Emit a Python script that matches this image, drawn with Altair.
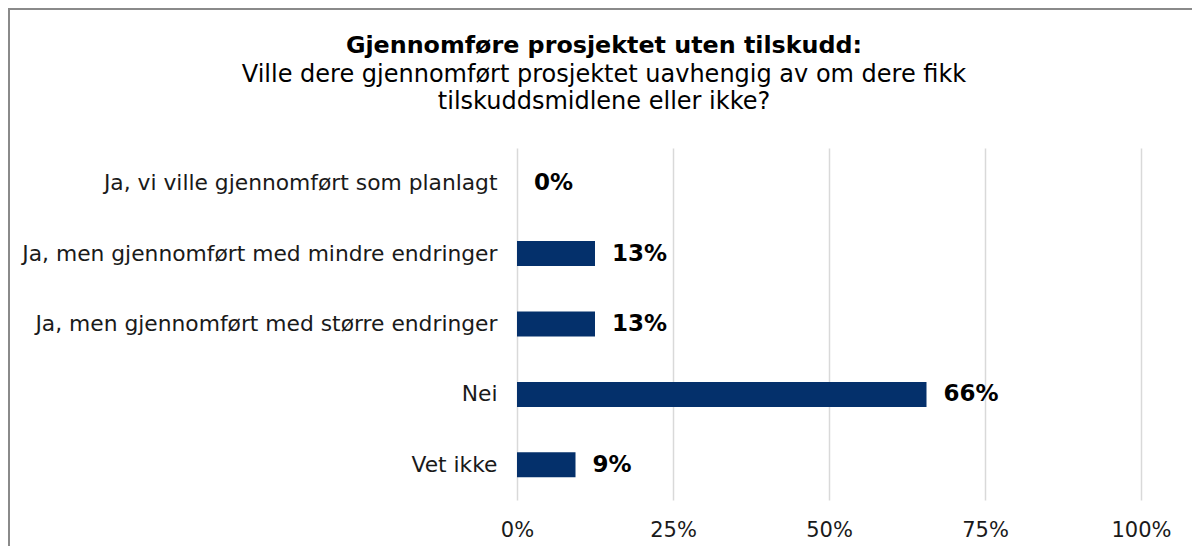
import altair as alt
import pandas as pd

categories = [
    "Ja, vi ville gjennomført som planlagt",
    "Ja, men gjennomført med mindre endringer",
    "Ja, men gjennomført med større endringer",
    "Nei",
    "Vet ikke",
]
shares = [0.0, 0.125, 0.125, 0.65625, 0.09375]
value_labels = ["0%", "13%", "13%", "66%", "9%"]

df = pd.DataFrame({"cat": categories, "share": shares, "label": value_labels})

FONT = "DejaVu Sans"
W, H = 624, 352
PAD_L, PAD_T, PAD_R, PAD_B = 509, 140, 51, 46

y_enc = alt.Y("cat:N", sort=categories, title=None,
              scale=alt.Scale(paddingInner=0.0, paddingOuter=0.0),
              axis=alt.Axis(labelFontSize=21.8, labelFont=FONT, labelColor="#1a1a1a",
                            labelPadding=20, ticks=False, domain=False, grid=False,
                            labelLimit=600))
x_enc = alt.X("share:Q", title=None,
              scale=alt.Scale(domain=[0, 1], nice=False),
              axis=alt.Axis(values=[0, 0.25, 0.5, 0.75, 1.0], format=".0%",
                            labelFontSize=21, labelFont=FONT, labelColor="#1a1a1a",
                            labelPadding=19, labelFlush=False, ticks=False, domain=False,
                            grid=True, gridColor="#d9d9d9", gridWidth=1.5))

bars = alt.Chart(df).mark_bar(size=25, color="#04306B").encode(y=y_enc, x=x_enc)

texts = alt.Chart(df).mark_text(align="left", baseline="middle", dx=17,
                                font=FONT, fontSize=23, fontWeight="bold",
                                color="#000000").encode(
    y=alt.Y("cat:N", sort=categories),
    x=alt.X("share:Q"),
    text="label:N",
)

border_left = alt.Chart(df.head(1)).mark_rule(color="#8a8a8a", strokeWidth=2).encode(
    x=alt.value(-508), y=alt.value(-139), y2=alt.value(H + PAD_B + 10))
border_top = alt.Chart(df.head(1)).mark_rule(color="#8a8a8a", strokeWidth=2).encode(
    x=alt.value(-509), x2=alt.value(W + PAD_R + 10), y=alt.value(-139))

chart = alt.layer(bars, texts, border_left, border_top).properties(
    width=W, height=H,
    view=alt.ViewBackground(stroke="transparent", strokeWidth=0),
    autosize=alt.AutoSizeParams(type="none"),
    padding={"left": PAD_L, "top": PAD_T, "right": PAD_R, "bottom": PAD_B},
    title=alt.TitleParams(
        text="Gjennomføre prosjektet uten tilskudd:",
        subtitle=["Ville dere gjennomført prosjektet uavhengig av om dere fikk",
                  "tilskuddsmidlene eller ikke?"],
        font=FONT, fontSize=23.8, fontWeight="bold", color="#000000",
        subtitleFont=FONT, subtitleFontSize=24, subtitleColor="#000000",
        subtitleLineHeight=27, subtitlePadding=5,
        anchor="middle", frame="group", dx=-225, offset=-106,
    ),
).configure_view(stroke="transparent", strokeWidth=0).configure_axis(
    domain=False
).configure(background="white")

chart.save("out.html", embed_options={"renderer": "svg", "actions": False})
